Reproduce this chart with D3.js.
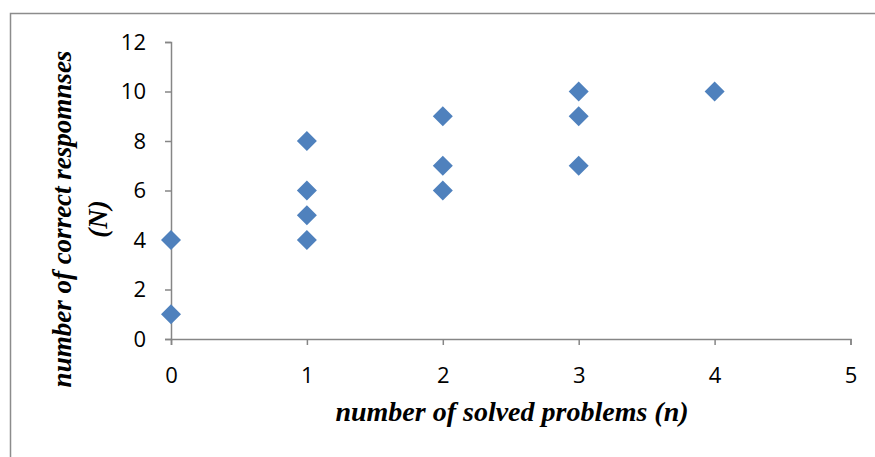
<!DOCTYPE html>
<html><head><meta charset="utf-8">
<script src="https://cdn.jsdelivr.net/npm/d3@7"></script>
<style>body{margin:0;background:#fff}</style>
</head><body>
<svg id="c" width="875" height="457"></svg>
<script>
const xs = [0, 0, 1, 1, 1, 1, 2, 2, 2, 3, 3, 3, 4];
const ys = [1, 4, 4, 5, 6, 8, 6, 7, 9, 7, 9, 10, 10];
const xTicks = [0, 1, 2, 3, 4, 5];
const yTicks = [0, 2, 4, 6, 8, 10, 12];
const xTitle = "number of solved problems (n)";
const yTitle1 = "number of correct respomnses";
const yTitle2 = "(N)";

const svg = d3.select("#c");
svg.append("rect").attr("x", 10.5).attr("y", 13.5).attr("width", 900).attr("height", 500)
  .attr("fill", "none").attr("stroke", "#8c8c8c").attr("stroke-width", 1.5);

const x = d3.scaleLinear().domain([0, 5]).range([171, 850.5]);
const y = d3.scaleLinear().domain([0, 12]).range([339, 42]);

const axisColor = "#868686";
const tickFont = "Open Sans, sans-serif";

const gx = svg.append("g").attr("transform", `translate(0,${y(0)})`)
  .call(d3.axisBottom(x).tickValues(xTicks).tickFormat(d3.format("d")).tickSize(6).tickPadding(22));
const gy = svg.append("g").attr("transform", `translate(${x(0)},0)`)
  .call(d3.axisLeft(y).tickValues(yTicks).tickFormat(d3.format("d")).tickSize(6).tickPadding(19));
[gx, gy].forEach(g => {
  g.select(".domain").attr("stroke", axisColor).attr("stroke-width", 1.5);
  g.selectAll(".tick line").attr("stroke", axisColor).attr("stroke-width", 1.5);
  g.selectAll(".tick text").attr("fill", "#000").style("font-family", tickFont).style("font-size", "22px");
});

svg.append("g").selectAll("path").data(xs.map((v, i) => [v, ys[i]])).join("path")
  .attr("transform", d => `translate(${x(d[0])},${y(d[1])}) rotate(45)`)
  .attr("d", d3.symbol().type(d3.symbolSquare).size(200))
  .attr("fill", "#4f81bd");

svg.append("text").attr("x", 512).attr("y", 421).attr("text-anchor", "middle")
  .style("font-family", "Liberation Serif, serif").style("font-weight", "bold").style("font-style", "italic")
  .style("font-size", "28px").text(xTitle);

const yt = svg.append("text").attr("transform", "translate(71,219) rotate(-90)").attr("text-anchor", "middle")
  .style("font-family", "Liberation Serif, serif").style("font-weight", "bold").style("font-style", "italic")
  .style("font-size", "27px");
yt.append("tspan").attr("x", 0).attr("y", 0).text(yTitle1);
yt.append("tspan").attr("x", 0).attr("y", 36).text(yTitle2);
</script>
</body></html>
